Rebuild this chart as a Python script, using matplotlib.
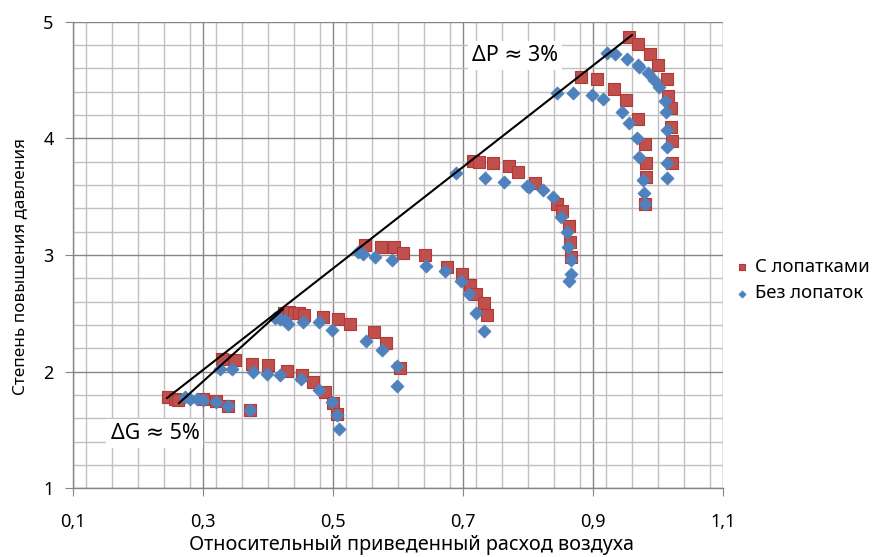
import numpy as np
import matplotlib
matplotlib.use('Agg')
import matplotlib.pyplot as plt
from matplotlib.ticker import MultipleLocator, FixedLocator

plt.rcParams['font.family'] = ['Noto Sans', 'DejaVu Sans']

# С лопатками (red squares)
red_x = [0.246, 0.257, 0.262, 0.300, 0.320, 0.338, 0.372,
         0.329, 0.349, 0.375, 0.400, 0.429, 0.452, 0.469, 0.488, 0.500, 0.506,
         0.425, 0.432, 0.440, 0.448, 0.455, 0.485, 0.508, 0.526, 0.563, 0.581, 0.603,
         0.549, 0.574, 0.594, 0.607, 0.641, 0.675, 0.699, 0.711, 0.720, 0.733, 0.737,
         0.715, 0.725, 0.746, 0.771, 0.785, 0.811, 0.845, 0.852, 0.863, 0.865, 0.866,
         0.882, 0.906, 0.932, 0.951, 0.969, 0.980, 0.981, 0.981, 0.980,
         0.955, 0.969, 0.988, 1.000, 1.014, 1.016, 1.020, 1.020, 1.022, 1.022]
red_y = [1.78, 1.77, 1.76, 1.77, 1.75, 1.71, 1.67,
         2.11, 2.10, 2.07, 2.06, 2.01, 1.97, 1.91, 1.83, 1.73, 1.64,
         2.50, 2.51, 2.50, 2.50, 2.49, 2.47, 2.45, 2.41, 2.34, 2.25, 2.03,
         3.09, 3.07, 3.07, 3.02, 3.00, 2.90, 2.84, 2.74, 2.67, 2.59, 2.49,
         3.81, 3.80, 3.79, 3.76, 3.71, 3.62, 3.44, 3.38, 3.25, 3.11, 2.98,
         4.53, 4.51, 4.42, 4.33, 4.17, 3.95, 3.79, 3.67, 3.44,
         4.87, 4.81, 4.72, 4.63, 4.51, 4.36, 4.26, 4.10, 3.98, 3.79]

# Без лопаток (blue diamonds)
blue_x = [0.272, 0.280, 0.290, 0.300, 0.320, 0.338, 0.372,
          0.326, 0.345, 0.377, 0.398, 0.418, 0.451, 0.478, 0.498, 0.506, 0.509,
          0.411, 0.418, 0.426, 0.430, 0.454, 0.479, 0.498, 0.550, 0.575, 0.598, 0.598,
          0.538, 0.546, 0.565, 0.590, 0.643, 0.672, 0.697, 0.709, 0.720, 0.733,
          0.689, 0.734, 0.763, 0.798, 0.802, 0.823, 0.838, 0.851, 0.860, 0.862, 0.866, 0.866, 0.863,
          0.845, 0.869, 0.898, 0.915, 0.945, 0.955, 0.967, 0.971, 0.977, 0.979, 0.980,
          0.921, 0.934, 0.952, 0.969, 0.971, 0.985, 0.994, 1.002, 1.010, 1.012, 1.014, 1.014, 1.014, 1.014]
blue_y = [1.78, 1.77, 1.765, 1.76, 1.74, 1.71, 1.67,
          2.02, 2.02, 2.00, 1.98, 1.97, 1.94, 1.84, 1.74, 1.63, 1.51,
          2.46, 2.45, 2.44, 2.41, 2.43, 2.43, 2.36, 2.26, 2.19, 2.05, 1.88,
          3.03, 3.01, 2.98, 2.96, 2.91, 2.86, 2.78, 2.67, 2.50, 2.35,
          3.70, 3.66, 3.63, 3.59, 3.58, 3.56, 3.50, 3.33, 3.20, 3.07, 2.96, 2.84, 2.78,
          4.39, 4.39, 4.37, 4.34, 4.23, 4.13, 4.00, 3.84, 3.64, 3.53, 3.44,
          4.73, 4.72, 4.68, 4.63, 4.61, 4.56, 4.50, 4.44, 4.32, 4.23, 4.07, 3.93, 3.79, 3.66]

# envelope lines
line_a_x = [0.2446, 0.960]
line_a_y = [1.774, 4.886]
line_b_x = [0.263, 0.423]
line_b_y = [1.73, 2.535]

fig = plt.figure(figsize=(8.85, 5.57), dpi=100)
ax = fig.add_axes([0.0825, 0.1233, 0.7345, 0.8377])

ax.set_xlim(0.1, 1.1)
ax.set_ylim(1, 5)
ax.xaxis.set_major_locator(FixedLocator([0.1, 0.3, 0.5, 0.7, 0.9, 1.1]))
ax.xaxis.set_minor_locator(MultipleLocator(0.04))
ax.yaxis.set_major_locator(MultipleLocator(1))
ax.yaxis.set_minor_locator(MultipleLocator(0.2))
ax.set_xticklabels(['0,1', '0,3', '0,5', '0,7', '0,9', '1,1'])

ax.grid(True, which='minor', color='#c0c0c0', linewidth=1.0, zorder=0)
ax.grid(True, which='major', color='#868686', linewidth=1.0, zorder=0)
ax.set_axisbelow(True)

for s in ['top', 'right']:
    ax.spines[s].set_visible(False)
for s in ['left', 'bottom']:
    ax.spines[s].set_color('#868686')
    ax.spines[s].set_linewidth(1.0)

ax.tick_params(which='major', direction='out', length=6, color='#868686', labelsize=13, pad=8)
ax.tick_params(axis='x', which='major', pad=12)
ax.tick_params(which='minor', length=0)

ax.scatter(red_x, red_y, marker='s', s=80, color='#C0504D', edgecolors='#B03A37',
           linewidths=0.8, label='С лопатками', zorder=3)
ax.scatter(blue_x, blue_y, marker='D', s=45, color='#4F81BD', edgecolors='#4F81BD',
           linewidths=0.5, label='Без лопаток', zorder=4)

ax.plot(line_a_x, line_a_y, color='black', linewidth=1.5, zorder=5)
ax.plot(line_b_x, line_b_y, color='black', linewidth=1.5, zorder=5)

ax.text(0.78, 4.71, 'ΔP ≈ 3%', fontsize=15.5, ha='center', va='center', zorder=6,
        bbox=dict(facecolor='white', edgecolor='none', pad=3))
ax.text(0.226, 1.47, 'ΔG ≈ 5%', fontsize=15.5, ha='center', va='center', zorder=6,
        bbox=dict(facecolor='white', edgecolor='none', pad=3))

ax.set_xlabel('Относительный приведенный расход воздуха', fontsize=14.3)
ax.xaxis.set_label_coords(0.52, -0.1)
ax.set_ylabel('Степень повышения давления', fontsize=12.3)
ax.yaxis.set_label_coords(-0.069, 0.476)

leg = ax.legend(loc='center left', bbox_to_anchor=(0.995, 0.446), frameon=False,
                fontsize=13.3, handletextpad=0.2, labelspacing=0.45, handlelength=1.0,
                markerscale=0.55, borderaxespad=0.3)

fig.savefig('out.png', dpi=100)
